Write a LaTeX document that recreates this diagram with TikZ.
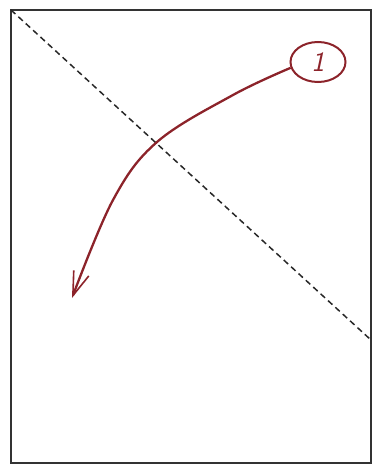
\documentclass[tikz,border=0pt]{standalone}
\usetikzlibrary{arrows.meta,shapes.geometric}
\definecolor{ink}{RGB}{140,35,42}
\begin{document}
\begin{tikzpicture}[x=1pt,y=-1pt,
  frame/.style={draw=black!80,line width=1.8pt},
  cutline/.style={draw=black!85,line width=1.5pt,dash pattern=on 6pt off 4pt},
  bubble/.style={ellipse,draw=ink,line width=2pt,minimum width=55pt,minimum height=40pt,inner sep=0pt,text=ink,font=\fontsize{28}{28}\selectfont\sffamily\itshape},
  curve/.style={draw=ink,line width=2.3pt,-{Straight Barb[length=24pt,width=16pt,line width=1.6pt]}}]
\useasboundingbox (0,0) rectangle (372,466);
\draw[frame] (11,10) rectangle (371,463);
\coordinate (tl) at (11,10);
\coordinate (re) at (371,340);
\draw[cutline] (tl) -- (re);
\node[bubble] (n) at (318,62) {1};
\coordinate (tip) at (72,298);
\draw[curve] plot[smooth,tension=0.6] coordinates {(n.192) (233,95) (157,142) (113,200) (tip)};
\end{tikzpicture}
\end{document}
